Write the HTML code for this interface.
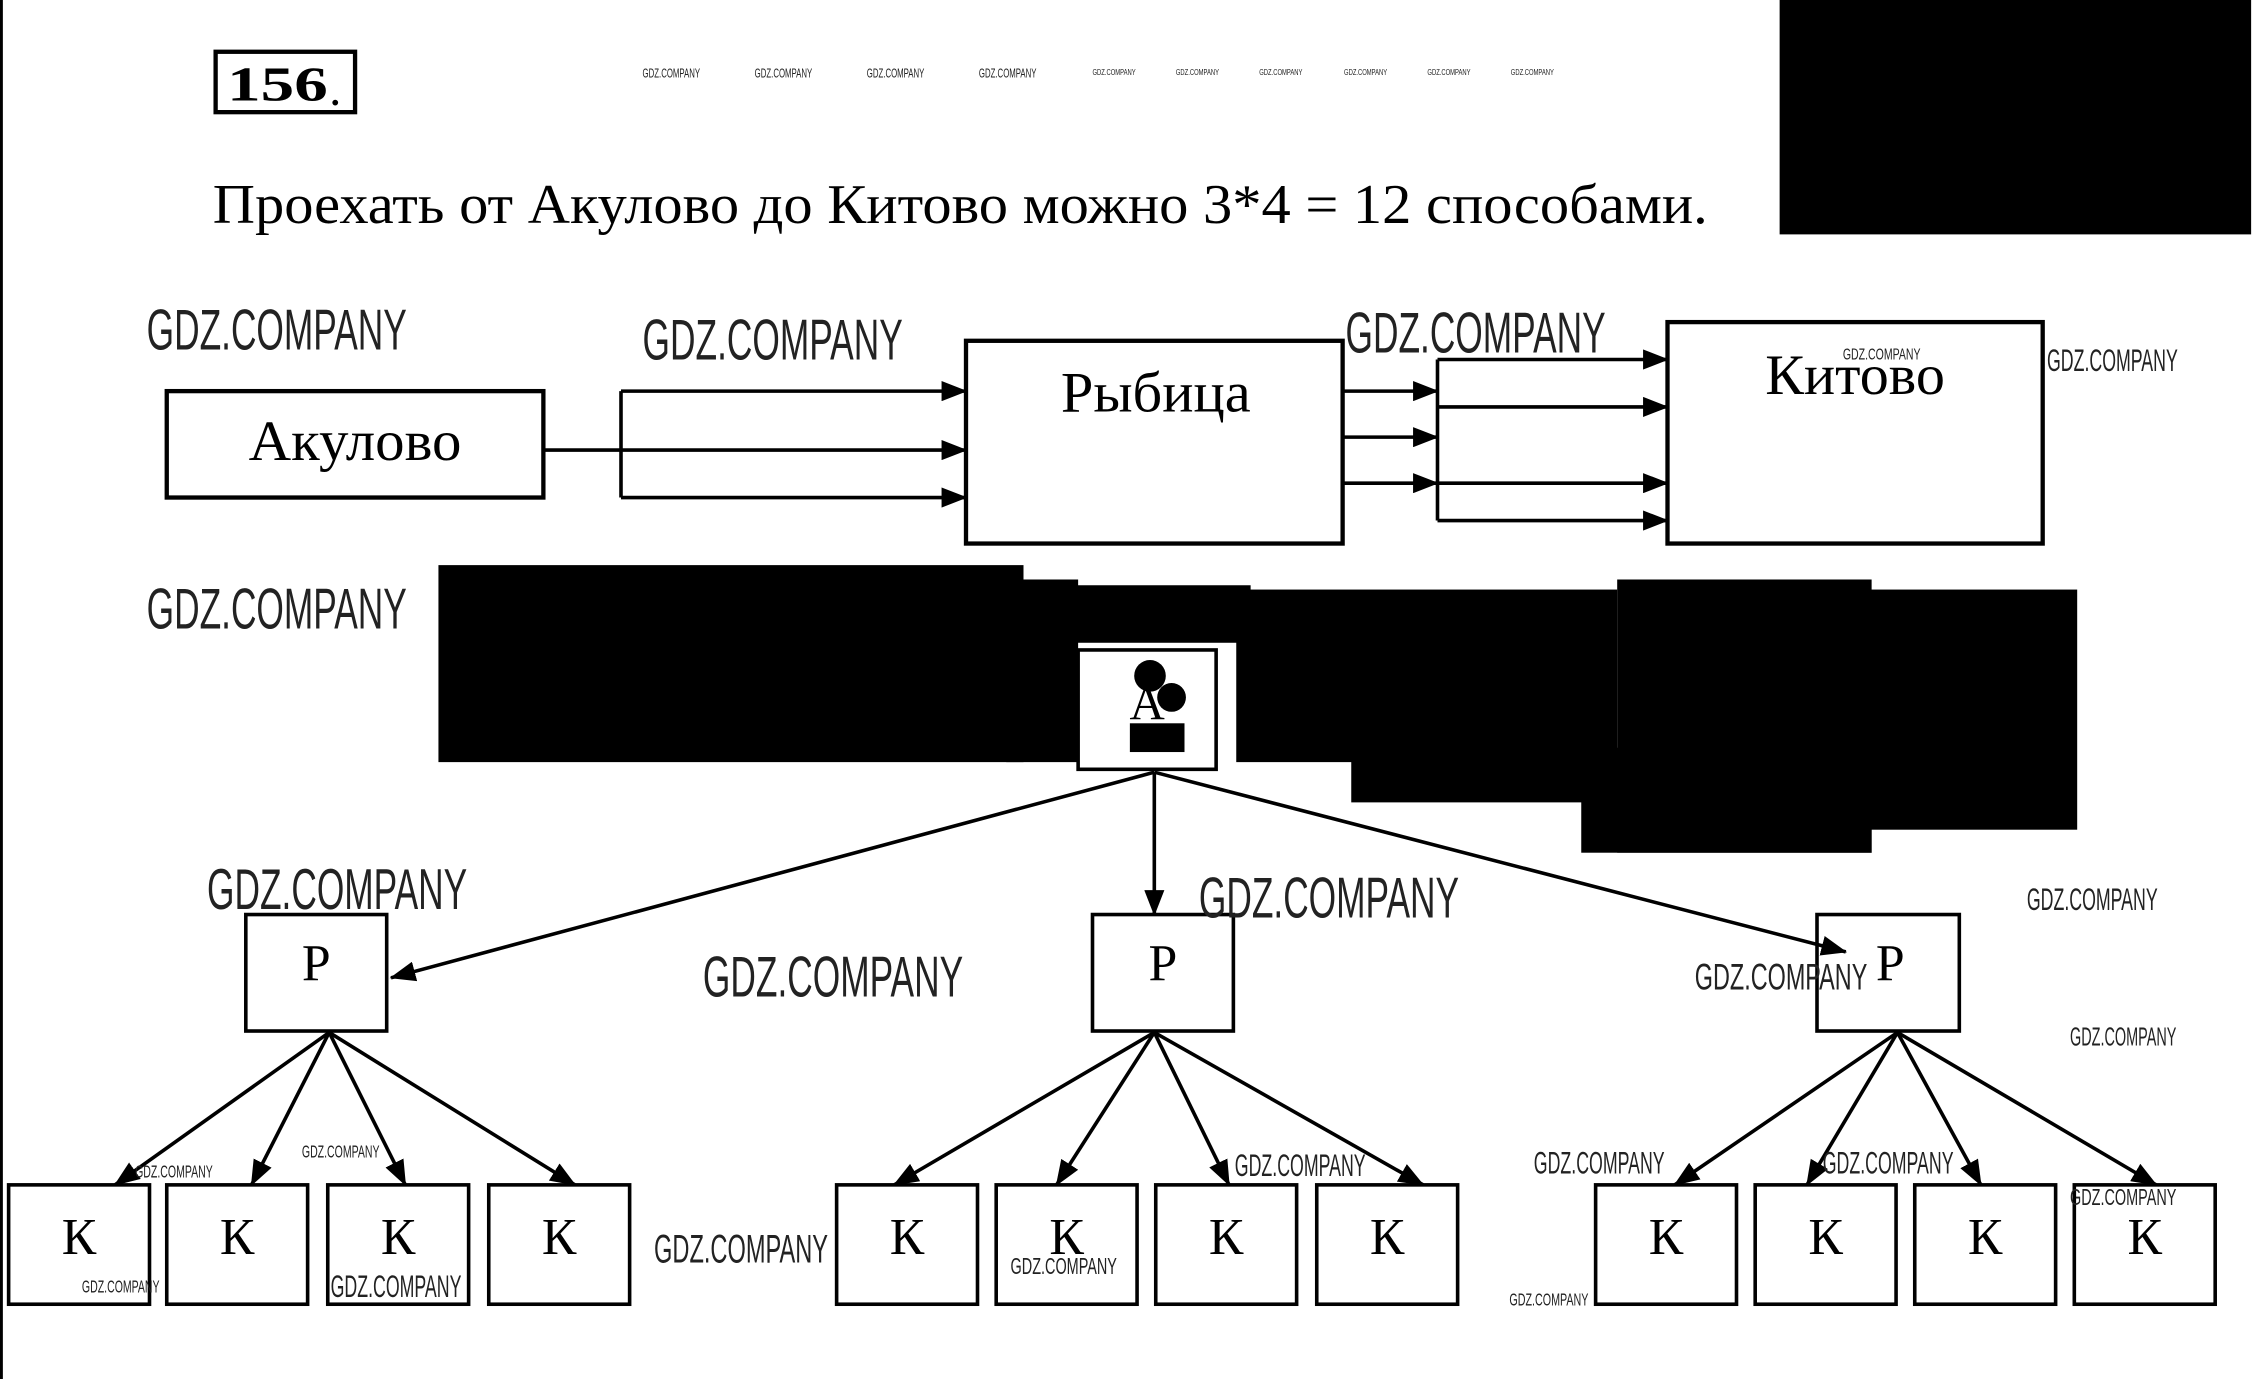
<!DOCTYPE html>
<html><head><meta charset="utf-8"><style>
html,body{margin:0;padding:0;background:#fff;}
svg{display:block}
.s{font-family:"Liberation Serif",serif;fill:#000}
.w{font-family:"Liberation Sans Narrow","Liberation Sans",sans-serif;fill:#222;font-weight:300}
</style></head><body>
<svg width="2254" height="1379" viewBox="0 0 1568 959" preserveAspectRatio="none" xmlns="http://www.w3.org/2000/svg">
<defs>
<marker id="b" markerWidth="18" markerHeight="14" refX="17" refY="7" orient="auto" markerUnits="userSpaceOnUse" viewBox="0 0 18 14"><path d="M0,0 L18,7 L0,14 z" fill="#000"/></marker></defs>
<rect x="0" y="0" width="2" height="959" fill="#000"/>
<rect x="150" y="36" width="97" height="42" fill="none" stroke="#000" stroke-width="3"/>
<text x="158" y="70" class="s" font-size="34" font-weight="bold" textLength="70" lengthAdjust="spacingAndGlyphs">156</text><text x="229" y="73" class="s" font-size="34">.</text>
<text x="148" y="155" class="s" font-size="39" textLength="1040" lengthAdjust="spacingAndGlyphs">Проехать от Акулово до Китово можно 3*4 = 12 способами.</text>
<rect x="1238" y="0" width="328" height="163" fill="#000"/>
<g class="w" font-size="9"><text x="447" y="54" textLength="40" lengthAdjust="spacingAndGlyphs">GDZ.COMPANY</text><text x="525" y="54" textLength="40" lengthAdjust="spacingAndGlyphs">GDZ.COMPANY</text><text x="603" y="54" textLength="40" lengthAdjust="spacingAndGlyphs">GDZ.COMPANY</text><text x="681" y="54" textLength="40" lengthAdjust="spacingAndGlyphs">GDZ.COMPANY</text>
<text x="760" y="52" font-size="6" textLength="30" lengthAdjust="spacingAndGlyphs">GDZ.COMPANY</text><text x="818" y="52" font-size="6" textLength="30" lengthAdjust="spacingAndGlyphs">GDZ.COMPANY</text><text x="876" y="52" font-size="6" textLength="30" lengthAdjust="spacingAndGlyphs">GDZ.COMPANY</text><text x="935" y="52" font-size="6" textLength="30" lengthAdjust="spacingAndGlyphs">GDZ.COMPANY</text><text x="993" y="52" font-size="6" textLength="30" lengthAdjust="spacingAndGlyphs">GDZ.COMPANY</text><text x="1051" y="52" font-size="6" textLength="30" lengthAdjust="spacingAndGlyphs">GDZ.COMPANY</text></g>
<g fill="none" stroke="#000" stroke-width="3">
<rect x="116" y="272" width="262" height="74"/>
<rect x="672" y="237" width="262" height="141"/>
<rect x="1160" y="224" width="261" height="154"/>
</g>
<text x="173" y="320" class="s" font-size="40" textLength="148" lengthAdjust="spacingAndGlyphs">Акулово</text>
<text x="738" y="286" class="s" font-size="40" textLength="132" lengthAdjust="spacingAndGlyphs">Рыбица</text>
<text x="1228" y="274" class="s" font-size="40" textLength="125" lengthAdjust="spacingAndGlyphs">Китово</text>
<g stroke="#000" stroke-width="2.5" fill="none">
<line x1="378" y1="313" x2="432" y2="313"/><line x1="432" y1="272" x2="432" y2="346"/>
<line x1="432" y1="272" x2="672" y2="272" marker-end="url(#b)"/>
<line x1="432" y1="313" x2="672" y2="313" marker-end="url(#b)"/>
<line x1="432" y1="346" x2="672" y2="346" marker-end="url(#b)"/>
<line x1="934" y1="272" x2="1000" y2="272" marker-end="url(#b)"/>
<line x1="934" y1="304" x2="1000" y2="304" marker-end="url(#b)"/>
<line x1="934" y1="336" x2="1000" y2="336" marker-end="url(#b)"/>
<line x1="1000" y1="250" x2="1000" y2="362"/>
<line x1="1000" y1="250" x2="1160" y2="250" marker-end="url(#b)"/>
<line x1="1000" y1="283" x2="1160" y2="283" marker-end="url(#b)"/>
<line x1="1000" y1="336" x2="1160" y2="336" marker-end="url(#b)"/>
<line x1="1000" y1="362" x2="1160" y2="362" marker-end="url(#b)"/>
</g>
<g fill="#000">
<rect x="305" y="393" width="407" height="137"/><rect x="700" y="403" width="50" height="127"/>
<rect x="748" y="407" width="122" height="40"/><rect x="860" y="410" width="265" height="120"/>
<rect x="1125" y="403" width="177" height="190"/><rect x="940" y="520" width="362" height="38"/>
<rect x="1100" y="555" width="202" height="38"/><rect x="1300" y="410" width="145" height="167"/>
</g>
<rect x="750" y="452" width="96" height="83" fill="#fff" stroke="#000" stroke-width="2.5"/>
<text x="798" y="500" class="s" font-size="34" text-anchor="middle" fill="#555">А</text>
<g fill="#000"><circle cx="800" cy="470" r="11"/><circle cx="815" cy="485" r="10"/><rect x="786" y="503" width="38" height="20"/></g>
<g fill="none" stroke="#000" stroke-width="2.5">
<rect x="171" y="636" width="98" height="81"/><rect x="760" y="636" width="98" height="81"/><rect x="1264" y="636" width="99" height="81"/>
<rect x="6" y="824" width="98" height="83"/><rect x="116" y="824" width="98" height="83"/><rect x="228" y="824" width="98" height="83"/><rect x="340" y="824" width="98" height="83"/>
<rect x="582" y="824" width="98" height="83"/><rect x="693" y="824" width="98" height="83"/><rect x="804" y="824" width="98" height="83"/><rect x="916" y="824" width="98" height="83"/>
<rect x="1110" y="824" width="98" height="83"/><rect x="1221" y="824" width="98" height="83"/><rect x="1332" y="824" width="98" height="83"/><rect x="1443" y="824" width="98" height="83"/>
<line x1="803" y1="537" x2="272" y2="680" marker-end="url(#b)"/>
<line x1="803" y1="537" x2="803" y2="636" marker-end="url(#b)"/>
<line x1="803" y1="537" x2="1284" y2="662" marker-end="url(#b)"/>
<line x1="229" y1="718" x2="80" y2="824" marker-end="url(#b)"/>
<line x1="229" y1="718" x2="175" y2="824" marker-end="url(#b)"/>
<line x1="229" y1="718" x2="282" y2="824" marker-end="url(#b)"/>
<line x1="229" y1="718" x2="400" y2="824" marker-end="url(#b)"/>
<line x1="803" y1="718" x2="622" y2="824" marker-end="url(#b)"/>
<line x1="803" y1="718" x2="735" y2="824" marker-end="url(#b)"/>
<line x1="803" y1="718" x2="855" y2="824" marker-end="url(#b)"/>
<line x1="803" y1="718" x2="990" y2="824" marker-end="url(#b)"/>
<line x1="1320" y1="718" x2="1165" y2="824" marker-end="url(#b)"/>
<line x1="1320" y1="718" x2="1257" y2="824" marker-end="url(#b)"/>
<line x1="1320" y1="718" x2="1378" y2="824" marker-end="url(#b)"/>
<line x1="1320" y1="718" x2="1500" y2="824" marker-end="url(#b)"/>
</g>
<g class="s" font-size="36" text-anchor="middle">
<text x="220" y="682">Р</text><text x="809" y="682">Р</text><text x="1315" y="682">Р</text>
<text x="55" y="872">К</text><text x="165" y="872">К</text><text x="277" y="872">К</text><text x="389" y="872">К</text>
<text x="631" y="872">К</text><text x="742" y="872">К</text><text x="853" y="872">К</text><text x="965" y="872">К</text>
<text x="1159" y="872">К</text><text x="1270" y="872">К</text><text x="1381" y="872">К</text><text x="1492" y="872">К</text>
</g>
<g class="w" font-size="40">
<text x="102" y="243" textLength="181" lengthAdjust="spacingAndGlyphs">GDZ.COMPANY</text>
<text x="447" y="250" textLength="181" lengthAdjust="spacingAndGlyphs">GDZ.COMPANY</text>
<text x="936" y="245" textLength="181" lengthAdjust="spacingAndGlyphs">GDZ.COMPANY</text>
<text x="102" y="437" textLength="181" lengthAdjust="spacingAndGlyphs">GDZ.COMPANY</text>
<text x="144" y="632" textLength="181" lengthAdjust="spacingAndGlyphs">GDZ.COMPANY</text>
<text x="834" y="638" textLength="181" lengthAdjust="spacingAndGlyphs">GDZ.COMPANY</text>
<text x="489" y="693" textLength="181" lengthAdjust="spacingAndGlyphs">GDZ.COMPANY</text>
</g>
<g class="w" font-size="22">
<text x="1424" y="258" textLength="91" lengthAdjust="spacingAndGlyphs">GDZ.COMPANY</text>
<text x="1410" y="633" textLength="91" lengthAdjust="spacingAndGlyphs">GDZ.COMPANY</text>
<text x="1179" y="688" font-size="26" textLength="120" lengthAdjust="spacingAndGlyphs">GDZ.COMPANY</text>
<text x="1440" y="727" font-size="18" textLength="74" lengthAdjust="spacingAndGlyphs">GDZ.COMPANY</text>
<text x="1067" y="816" textLength="91" lengthAdjust="spacingAndGlyphs">GDZ.COMPANY</text>
<text x="1268" y="816" textLength="91" lengthAdjust="spacingAndGlyphs">GDZ.COMPANY</text>
<text x="859" y="818" textLength="91" lengthAdjust="spacingAndGlyphs">GDZ.COMPANY</text>
<text x="455" y="878" font-size="28" textLength="121" lengthAdjust="spacingAndGlyphs">GDZ.COMPANY</text>
<text x="230" y="902" textLength="91" lengthAdjust="spacingAndGlyphs">GDZ.COMPANY</text>
<text x="703" y="886" font-size="16" textLength="74" lengthAdjust="spacingAndGlyphs">GDZ.COMPANY</text>
<text x="1440" y="838" font-size="16" textLength="74" lengthAdjust="spacingAndGlyphs">GDZ.COMPANY</text>
<text x="94" y="819" font-size="12" textLength="54" lengthAdjust="spacingAndGlyphs">GDZ.COMPANY</text>
<text x="210" y="805" font-size="12" textLength="54" lengthAdjust="spacingAndGlyphs">GDZ.COMPANY</text>
<text x="57" y="899" font-size="12" textLength="54" lengthAdjust="spacingAndGlyphs">GDZ.COMPANY</text>
<text x="1050" y="908" font-size="12" textLength="55" lengthAdjust="spacingAndGlyphs">GDZ.COMPANY</text>
<text x="1282" y="250" font-size="11" textLength="54" lengthAdjust="spacingAndGlyphs">GDZ.COMPANY</text>
</g>
</svg>
</body></html>
